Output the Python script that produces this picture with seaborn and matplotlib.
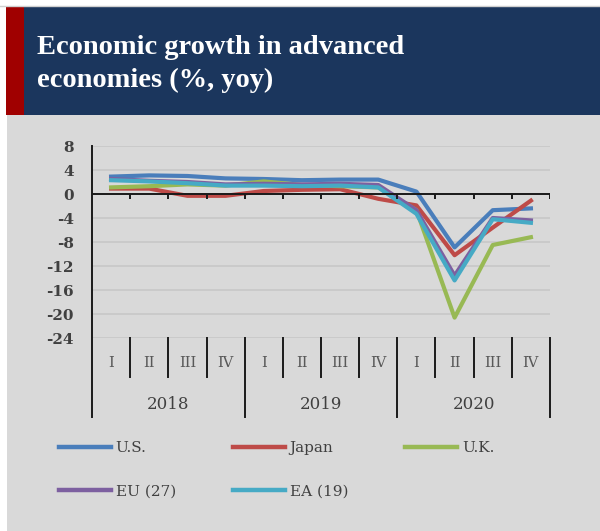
import numpy as np
import pandas as pd
import matplotlib
matplotlib.use("Agg")
import matplotlib.pyplot as plt
from matplotlib.patches import Rectangle
from matplotlib.lines import Line2D
import matplotlib.transforms as mtransforms
import seaborn as sns

# ---------------- data ----------------
quarters = ["I", "II", "III", "IV"] * 3
years = ["2018", "2019", "2020"]
series_names = ["U.S.", "Japan", "U.K.", "EU (27)", "EA (19)"]
us = [2.9, 3.1, 3.0, 2.6, 2.5, 2.3, 2.4, 2.4, 0.4, -8.9, -2.7, -2.4]
japan = [0.9, 0.9, -0.3, -0.3, 0.5, 0.7, 0.8, -0.8, -1.9, -10.2, -5.6, -1.1]
uk = [1.1, 1.3, 1.6, 1.4, 2.1, 1.5, 1.3, 1.1, -2.7, -20.6, -8.5, -7.2]
eu = [2.5, 2.2, 2.0, 1.6, 1.7, 1.6, 1.7, 1.5, -2.7, -13.6, -4.0, -4.4]
ea = [2.3, 2.1, 1.8, 1.4, 1.4, 1.3, 1.4, 1.1, -3.3, -14.4, -4.2, -4.8]
y_ticks = [8, 4, 0, -4, -8, -12, -16, -20, -24]
title_lines = ["Economic growth in advanced", "economies (%, yoy)"]

colors = {"U.S.": "#4A7EBB", "Japan": "#BE4B48", "U.K.": "#98B954",
          "EU (27)": "#7D60A0", "EA (19)": "#46AAC5"}

values = [us, japan, uk, eu, ea]
rows = []
for name, vals in zip(series_names, values):
    for i, v in enumerate(vals):
        rows.append({"idx": i, "value": v, "series": name})
df = pd.DataFrame(rows)

# ---------------- figure ----------------
W, H = 600, 531
fig = plt.figure(figsize=(W / 100, H / 100), dpi=100)
fig.patch.set_facecolor("white")

def fr(x0, y0, x1, y1):
    # pixel box (top-left origin) -> figure fraction rectangle
    return (x0 / W, 1 - y1 / H), (x1 - x0) / W, (y1 - y0) / H

for (xy, w, h), col in [(fr(7, 115, 600, 531), "#D9D9D9"),
                        (fr(6, 7, 600, 115), "#1B365D"),
                        (fr(6, 7, 24, 115), "#A00000")]:
    fig.add_artist(Rectangle(xy, w, h, transform=fig.transFigure,
                             facecolor=col, edgecolor="none", zorder=0))
fig.add_artist(Line2D([0, 1], [1 - 6 / H, 1 - 6 / H], transform=fig.transFigure,
                      color="#D0D0D0", lw=1, zorder=0))

for line, base in zip(title_lines, [54, 87]):
    fig.text(37 / W, 1 - base / H, line, color="white", fontsize=20.5,
             fontfamily="Liberation Serif", fontweight="bold", va="baseline",
             ha="left")

serif = "DejaVu Serif"
ax = fig.add_axes([92 / W, 1 - 338 / H, 458 / W, 192 / H])
ax.set_facecolor("none")
ax.set_zorder(2)

ax.yaxis.grid(True, color="#C8C8C8", lw=1.2)
ax.set_axisbelow(True)

sns.lineplot(data=df, x="idx", y="value", hue="series", hue_order=series_names,
             palette=colors, linewidth=3.0, ax=ax, sort=False, legend=True)

n = len(quarters)
ax.set_xlim(-0.5, n - 0.5)
ax.set_ylim(-24, 8)
ax.set_yticks(y_ticks)
ax.set_yticklabels([str(t) for t in y_ticks], fontfamily=serif, fontsize=11,
                   fontweight="bold", color="#404040")
ax.tick_params(axis="y", length=0, pad=13)
ax.set_xticks([])
ax.set_xlabel("")
ax.set_ylabel("")
for s in ax.spines.values():
    s.set_visible(False)

# zero axis line with category ticks
ax.axhline(0, color="#1A1A1A", lw=1.4, zorder=3)
bounds = np.arange(n + 1) - 0.5
ax.vlines(bounds[1:], -0.9, 0, color="#1A1A1A", lw=1.4, zorder=3)

trans = mtransforms.blended_transform_factory(ax.transData, ax.transAxes)
# y axis line (extends through the category labels)
ax.add_line(Line2D([-0.5, -0.5], [1.0, -0.411], transform=trans, color="#1A1A1A",
                   lw=1.4, clip_on=False))
for i, b in enumerate(bounds[1:], start=1):
    bottom = -0.411 if i % 4 == 0 else -0.203
    ax.add_line(Line2D([b, b], [0, bottom], transform=trans, color="#1A1A1A",
                       lw=1.4, clip_on=False))
for i, q in enumerate(quarters):
    ax.text(i, -0.130, q, transform=trans, ha="center", va="center",
            fontfamily=serif, fontsize=10.5, color="#595959")
for j, y in enumerate(years):
    ax.text(4 * j + 1.5, -0.344, y, transform=trans, ha="center", va="center",
            fontfamily=serif, fontsize=12, color="#404040")

# legend (row-major order)
ax.get_legend().remove()
order = ["U.S.", "EU (27)", "Japan", "EA (19)", "U.K."]
hs = [Line2D([], [], color=colors[o], lw=3.2) for o in order]
leg = fig.legend(hs, order, loc="upper left", bbox_to_anchor=(59 / W, 1 - 441 / H),
                 ncol=3, frameon=False, borderpad=0, borderaxespad=0,
                 handlelength=3.4, handletextpad=0.3, columnspacing=3.75,
                 labelspacing=1.95, prop={"family": serif, "size": 11})
for t in leg.get_texts():
    t.set_color("#404040")

fig.savefig("out.png", dpi=100, facecolor=fig.get_facecolor())
